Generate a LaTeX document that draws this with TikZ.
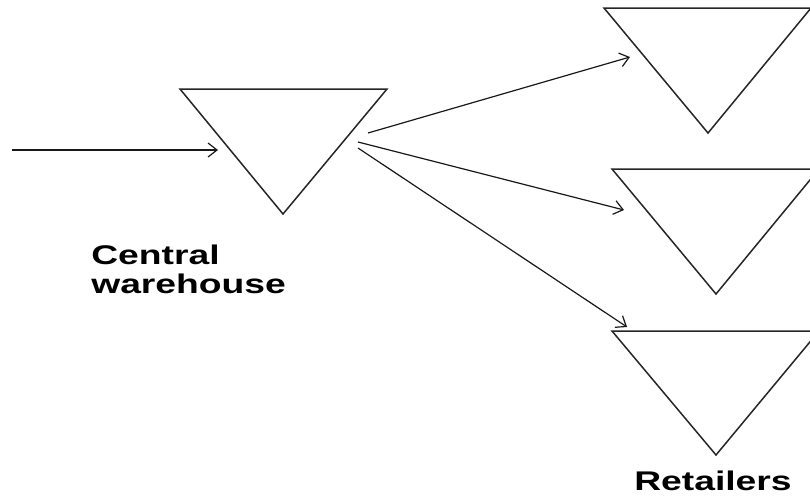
\documentclass[tikz,border=0pt]{standalone}
\usepackage{fontspec}
\setmainfont{Liberation Sans}
\usetikzlibrary{arrows.meta}
\tikzset{
  tri/.style={draw=black!85, line width=1.5pt, line join=miter},
  flow/.style={draw=black!90, line width=1.2pt, -{Straight Barb[length=9pt,width=14pt,line width=1.2pt]}},
  lbl/.style={font=\fontsize{27}{30}\selectfont\bfseries, xscale=1.38, anchor=base west, inner sep=0pt, text=black}
}
\begin{document}
\begin{tikzpicture}[x=1pt,y=-1pt]
\useasboundingbox (0,0) rectangle (810,496);
\clip (0,0) rectangle (810,496);
\fill[white] (0,0) rectangle (810,496);

% central warehouse
\coordinate (cwA) at (180,89);
\coordinate (cwB) at (387,89);
\coordinate (cwC) at (283,214);
\draw[tri] (cwA) -- (cwB) -- (cwC) -- cycle;

% retailers
\coordinate (r1A) at (604,8);
\coordinate (r1B) at (811,8);
\coordinate (r1C) at (708,133);
\draw[tri] (r1A) -- (r1B) -- (r1C) -- cycle;

\coordinate (r2A) at (612,169);
\coordinate (r2B) at (819,169);
\coordinate (r2C) at (716,294);
\draw[tri] (r2A) -- (r2B) -- (r2C) -- cycle;

\coordinate (r3A) at (612,331);
\coordinate (r3B) at (819,331);
\coordinate (r3C) at (716,455);
\draw[tri] (r3A) -- (r3B) -- (r3C) -- cycle;

% flow endpoints
\coordinate (src) at (12,150);
\coordinate (inTip) at (218,150);
\coordinate (o1) at (368,133);
\coordinate (t1) at (630,57);
\coordinate (o2) at (358,142);
\coordinate (t2) at (624,210);
\coordinate (o3) at (358,148);
\coordinate (t3) at (627,327);

\draw[flow] (src) -- (inTip);
\draw[flow] (o1) -- (t1);
\draw[flow] (o2) -- (t2);
\draw[flow] (o3) -- (t3);

% labels
\node[lbl] (cwl1) at (91,264) {Central};
\node[lbl] (cwl2) at (91,293) {warehouse};
\node[lbl] (rl) at (634,490) {Retailers};
\end{tikzpicture}
\end{document}
